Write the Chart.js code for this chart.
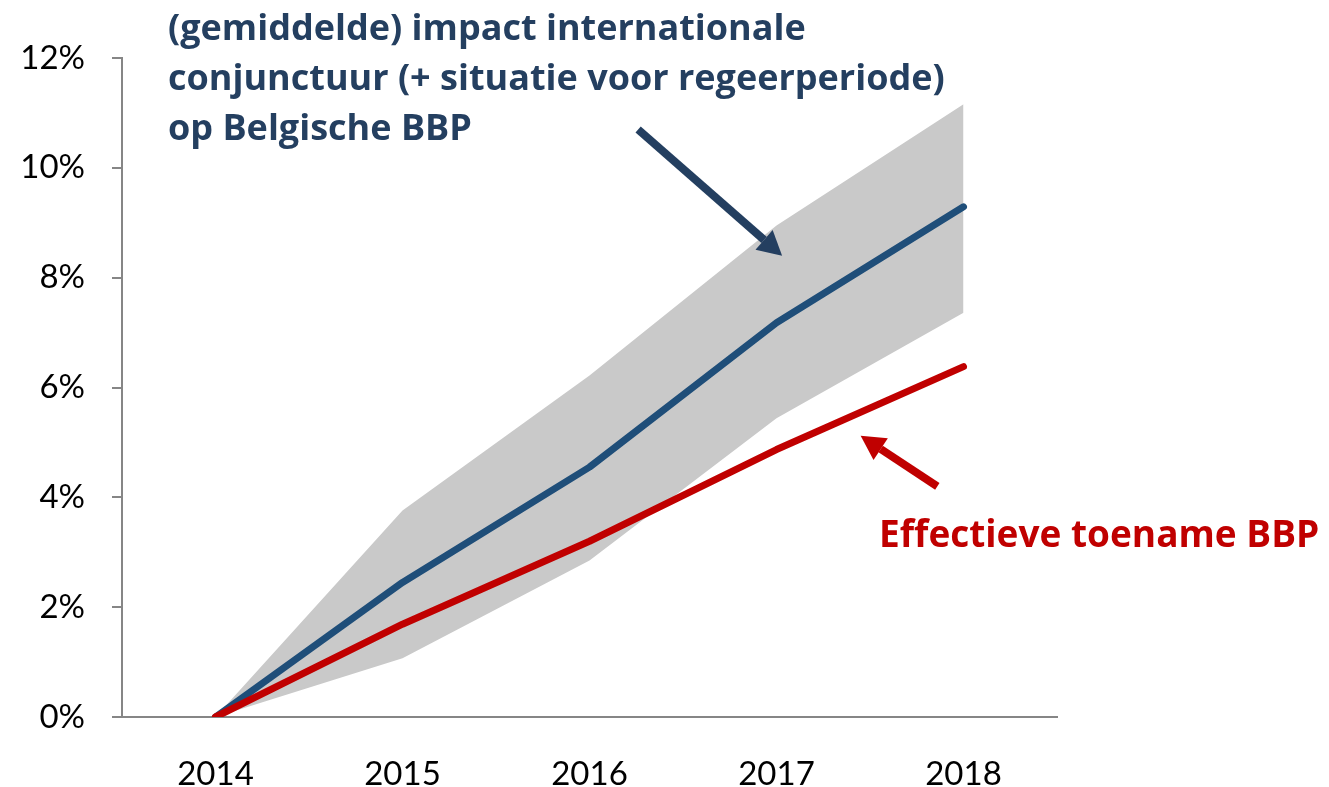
<!DOCTYPE html>
<html>
<head>
<meta charset="utf-8">
<script src="https://cdn.jsdelivr.net/npm/chart.js@4"></script>
<style>
  html, body { margin: 0; padding: 0; background: #fff; }
  #wrap { position: relative; width: 1329px; height: 787px; }
  .note { position: absolute; font-family: "Open Sans", Lato, sans-serif; font-weight: 700; white-space: nowrap;
          font-variant-ligatures: none; }
  #noteBlue { left: 168px; top: 2px; font-size: 36px; line-height: 50px; color: #243F60; }
  #noteRed { left: 879px; top: 508px; font-size: 37px; line-height: 50px; color: #C00000; }
</style>
</head>
<body>
<div id="wrap">
  <canvas id="myChart" width="1329" height="787"></canvas>
  <div class="note" id="noteBlue">(gemiddelde) impact internationale<br>conjunctuur (+ situatie voor regeerperiode)<br>op Belgische BBP</div>
  <div class="note" id="noteRed">Effectieve toename BBP</div>
</div>
<script>
const years = ["2014", "2015", "2016", "2017", "2018"];
const effectief = [0, 1.69, 3.2, 4.87, 6.38];
const conjunctuur = [0, 2.45, 4.55, 7.18, 9.29];
const bandHoog = [0, 3.76, 6.22, 8.95, 11.16];
const bandLaag = [0, 1.07, 2.85, 5.44, 7.36];

// arrows in axis units: [category index, percent]
const arrowBlue = { from: [2.26, 10.7], to: [3.03, 8.4] };
const arrowRed = { from: [3.86, 4.2], to: [3.45, 5.12] };

function drawArrow(ctx, x1, y1, x2, y2, color) {
    const ang = Math.atan2(y2 - y1, x2 - x1);
    const head = 24, half = 13;
    const bx = x2 - head * Math.cos(ang), by = y2 - head * Math.sin(ang);
    ctx.save();
    ctx.strokeStyle = color;
    ctx.fillStyle = color;
    ctx.lineWidth = 8;
    ctx.beginPath();
    ctx.moveTo(x1, y1);
    ctx.lineTo(bx, by);
    ctx.stroke();
    ctx.beginPath();
    ctx.moveTo(x2, y2);
    ctx.lineTo(bx + half * Math.sin(ang), by - half * Math.cos(ang));
    ctx.lineTo(bx - half * Math.sin(ang), by + half * Math.cos(ang));
    ctx.closePath();
    ctx.fill();
    ctx.restore();
}

const arrowPlugin = {
    id: 'arrows',
    afterDraw(chart) {
        const x = chart.scales.x, y = chart.scales.y, ctx = chart.ctx;
        const pts = a => [x.getPixelForValue(a.from[0]), y.getPixelForValue(a.from[1]),
                          x.getPixelForValue(a.to[0]), y.getPixelForValue(a.to[1])];
        drawArrow(ctx, ...pts(arrowBlue), '#243F60');
        drawArrow(ctx, ...pts(arrowRed), '#C00000');
    }
};

const tickFont = { family: 'Lato, "Open Sans", sans-serif', size: 33 };

new Chart(document.getElementById('myChart').getContext('2d'), {
    type: 'line',
    data: {
        labels: years,
        datasets: [
            { label: 'Effectieve toename BBP', data: effectief, borderColor: '#C00000', borderWidth: 7,
              borderCapStyle: 'round', borderJoinStyle: 'round', pointRadius: 0, fill: false, tension: 0 },
            { label: 'Impact conjunctuur', data: conjunctuur, borderColor: '#1F4E79', borderWidth: 7,
              borderCapStyle: 'round', borderJoinStyle: 'round', pointRadius: 0, fill: false, tension: 0 },
            { label: 'band hoog', data: bandHoog, borderWidth: 0, borderColor: 'rgba(0,0,0,0)',
              backgroundColor: '#C9C9C9', pointRadius: 0, fill: 3, tension: 0 },
            { label: 'band laag', data: bandLaag, borderWidth: 0, borderColor: 'rgba(0,0,0,0)',
              pointRadius: 0, fill: false, tension: 0 }
        ]
    },
    options: {
        responsive: false,
        animation: false,
        layout: { padding: { top: 58, right: 272, left: 0, bottom: 0 } },
        plugins: { legend: { display: false }, tooltip: { enabled: false } },
        scales: {
            x: {
                offset: true,
                grid: { display: true, drawOnChartArea: false, drawTicks: false },
                border: { color: '#868686', width: 2 },
                ticks: { color: '#000', font: tickFont, padding: 38, maxRotation: 0 },
                afterFit(scale) { scale.height = 70; }
            },
            y: {
                min: 0, max: 12,
                grid: { drawOnChartArea: false, drawTicks: true, tickLength: 10, color: '#868686', lineWidth: 2 },
                border: { color: '#868686', width: 2 },
                ticks: { stepSize: 2, color: '#000', font: tickFont, padding: 27,
                         callback: v => v + '%' },
                afterFit(scale) { scale.width = 122; }
            }
        }
    },
    plugins: [arrowPlugin]
});
</script>
</body>
</html>
